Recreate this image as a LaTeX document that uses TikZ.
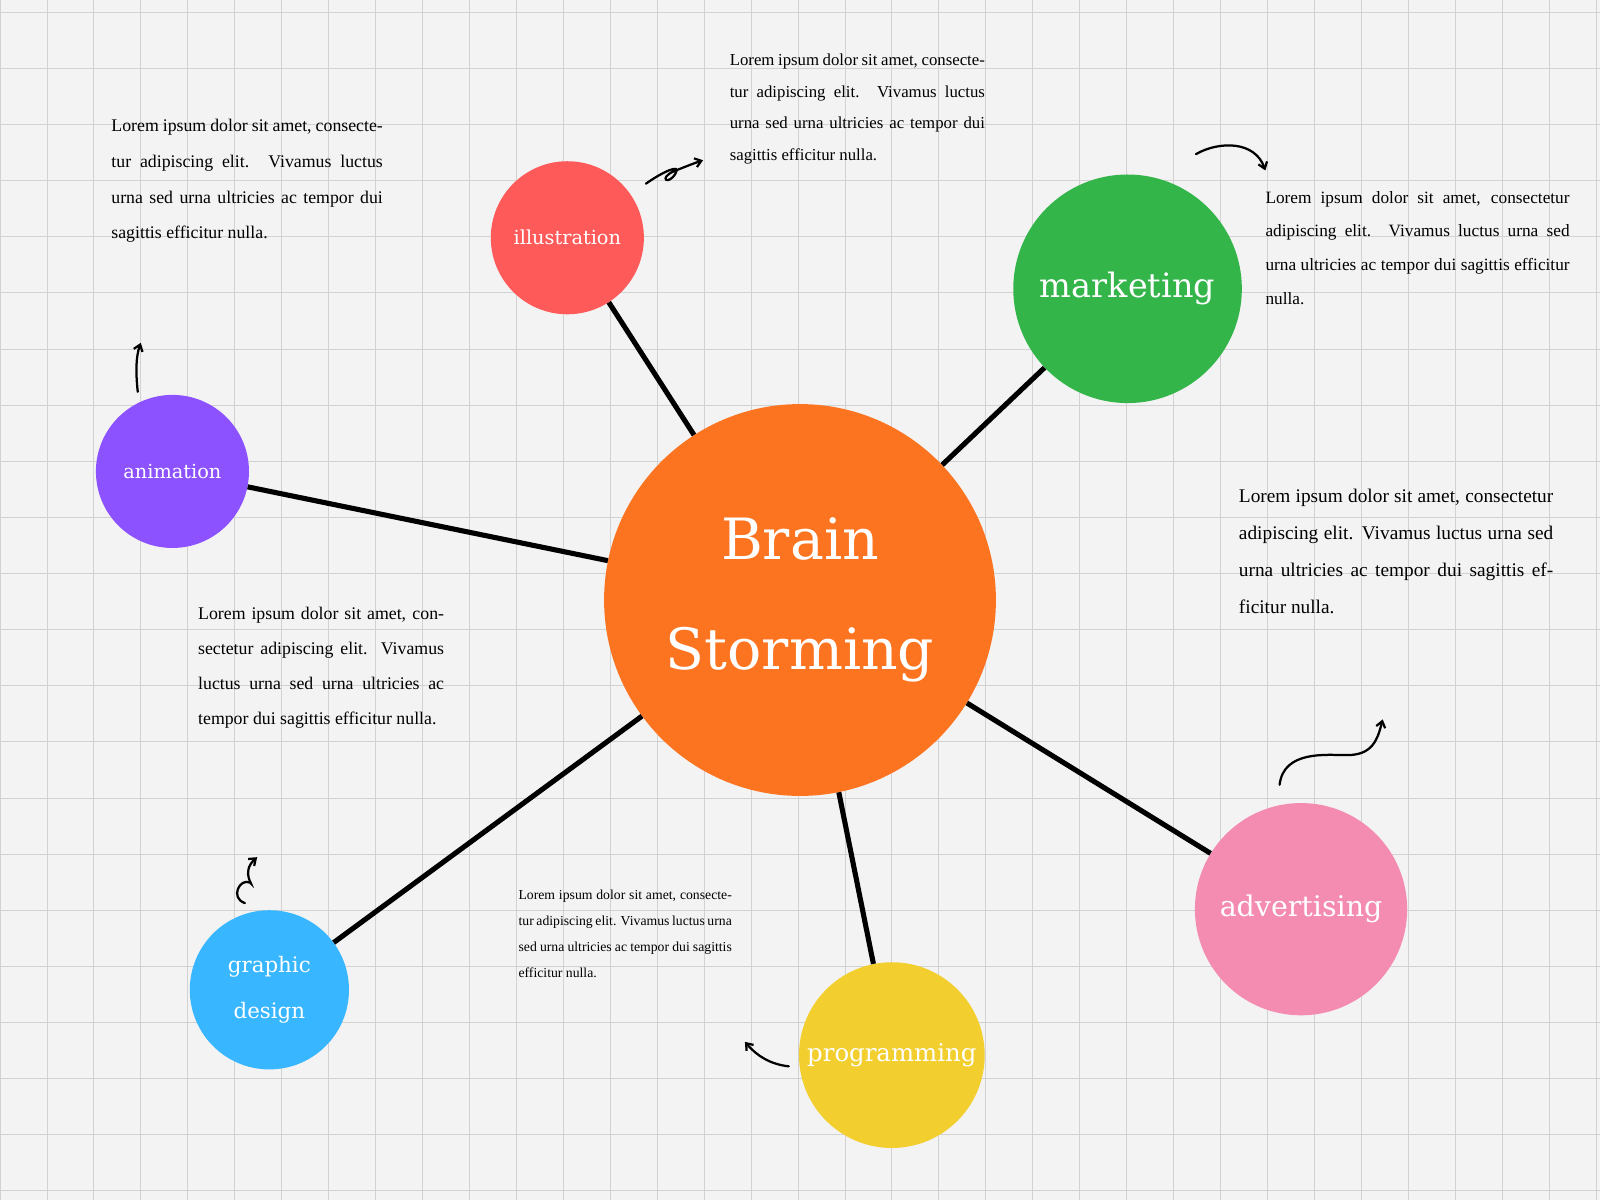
\documentclass[tikz,border=0pt]{standalone}
\usepackage{fontspec}
\setmainfont{DejaVu Serif}
\newfontfamily\para{Liberation Serif}
\usetikzlibrary{arrows.meta}
\definecolor{bg}{HTML}{F3F3F3}
\definecolor{gridc}{HTML}{D2D2D2}
\definecolor{cOr}{HTML}{FC7420}
\definecolor{cRed}{HTML}{FF5A5A}
\definecolor{cGreen}{HTML}{33B54A}
\definecolor{cPurple}{HTML}{8C52FF}
\definecolor{cBlue}{HTML}{38B6FF}
\definecolor{cYellow}{HTML}{F2CE2E}
\definecolor{cPink}{HTML}{F48BB0}
\newcommand{\lorem}{Lorem ipsum dolor sit amet, consectetur adipiscing elit. Vivamus luctus urna sed urna ultricies ac tempor dui sagittis efficitur nulla.}
\begin{document}
\begin{tikzpicture}[x=1bp,y=-1bp,
  bub/.style={circle,inner sep=0pt,text=white,align=center},
  link/.style={line width=5bp,black},
  para/.style={anchor=north west,align=justify,inner sep=0pt,font=\para},
  doodle/.style={line width=2.2bp,black,-{Straight Barb[length=6bp,width=9bp]},line cap=round}]
\useasboundingbox (0,0) rectangle (1568,1176);
\fill[bg] (0,0) rectangle (1568,1176);
\foreach \x in {0,46,...,1568} \draw[gridc,line width=0.8bp] (\x,0) -- (\x,1176);
\foreach \y in {12,67,...,1176} \draw[gridc,line width=0.8bp] (0,\y) -- (1568,\y);
% nodes
\node[bub,fill=cOr,minimum size=384bp,font=\fontsize{56}{108}\selectfont] (c) at (784,588) {Brain\\Storming};
\node[bub,fill=cRed,minimum size=150bp,font=\fontsize{19}{23}\selectfont] (il) at (556,233) {illustration};
\node[bub,fill=cGreen,minimum size=224bp,font=\fontsize{33}{40}\selectfont] (mk) at (1105,283) {marketing};
\node[bub,fill=cPurple,minimum size=150bp,font=\fontsize{19}{23}\selectfont] (an) at (169,462) {animation};
\node[bub,fill=cBlue,minimum size=156bp,font=\fontsize{21}{45}\selectfont] (gd) at (264,970) {graphic\\design};
\node[bub,fill=cYellow,minimum size=182bp,font=\fontsize{24}{29}\selectfont] (pr) at (874,1034) {programming};
\node[bub,fill=cPink,minimum size=208bp,font=\fontsize{28}{34}\selectfont] (ad) at (1275,891) {advertising};
% links
\draw[link] (c) -- (il);
\draw[link] (c) -- (mk);
\draw[link] (c) -- (an);
\draw[link] (c) -- (gd);
\draw[link] (c) -- (pr);
\draw[link] (c) -- (ad);
% texts
\node[para,text width=266bp,font=\para\fontsize{17.5}{35}\selectfont] (t1) at (109,117) {\lorem};
\node[para,text width=250bp,font=\para\fontsize{16.5}{31}\selectfont] (t2) at (715,53) {\lorem};
\node[para,text width=298bp,font=\para\fontsize{17}{33.3}\selectfont] (t3) at (1240,187) {\lorem};
\node[para,text width=308bp,font=\para\fontsize{19}{36.5}\selectfont] (t4) at (1214,479) {\lorem};
\node[para,text width=241bp,font=\para\fontsize{17.5}{34.3}\selectfont] (t5) at (194,595) {\lorem};
\node[para,text width=209bp,font=\para\fontsize{13.5}{25.5}\selectfont] (t6) at (508,872) {\lorem};
% doodles
\coordinate (a1s) at (633,180); \coordinate (a1e) at (689,157);
\draw[doodle] (a1s) .. controls (650,168) and (668,160) .. (662,170) .. controls (655,182) and (645,175) .. (660,168) .. controls (670,164) and (680,160) .. (a1e);
\coordinate (a2s) at (1172,151); \coordinate (a2e) at (1240,167);
\draw[doodle] (a2s) .. controls (1195,138) and (1230,138) .. (a2e);
\coordinate (a3s) at (135,384); \coordinate (a3e) at (138,336);
\draw[doodle] (a3s) .. controls (133,365) and (133,350) .. (a3e);
\coordinate (a4s) at (1254,769); \coordinate (a4e) at (1355,705);
\draw[doodle] (a4s) .. controls (1258,735) and (1300,740) .. (1320,740) .. controls (1345,740) and (1350,725) .. (a4e);
\coordinate (a5s) at (240,885); \coordinate (a5e) at (252,840);
\draw[doodle] (a5s) .. controls (225,880) and (235,860) .. (245,865) .. controls (250,870) and (235,855) .. (a5e);
\coordinate (a6s) at (773,1045); \coordinate (a6e) at (730,1021);
\draw[doodle] (a6s) .. controls (755,1043) and (742,1035) .. (a6e);
\end{tikzpicture}
\end{document}
